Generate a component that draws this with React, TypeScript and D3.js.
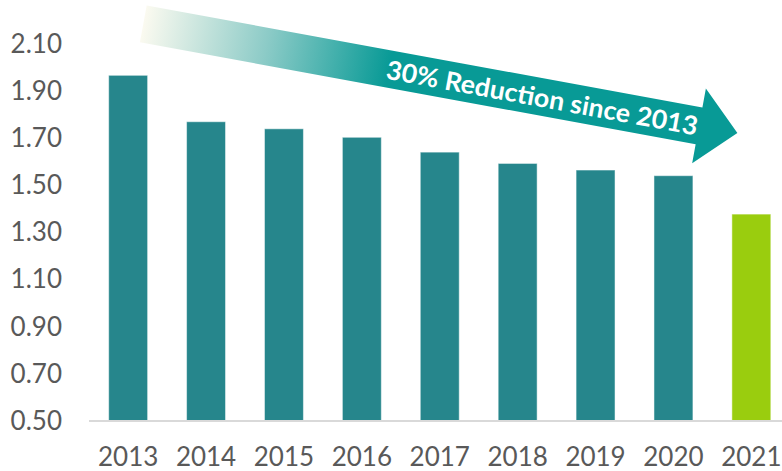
import React from "react";
import * as d3 from "d3";

const years = ["2013", "2014", "2015", "2016", "2017", "2018", "2019", "2020", "2021"];
const values = [1.965, 1.768, 1.738, 1.702, 1.639, 1.591, 1.563, 1.539, 1.376];
const yTicks = [0.5, 0.7, 0.9, 1.1, 1.3, 1.5, 1.7, 1.9, 2.1];
const arrowLabel = "30% Reduction since 2013";

const W = 782;
const H = 471;
const TEAL = "#26868C";
const GREEN = "#9ACD0E";
const ARROW = "#089A96";
const TEXT = "#595959";
const FONT = "Lato, 'Open Sans', sans-serif";

export default function App() {
  const x = d3.scaleBand<string>().domain(years).range([89.2, 790.3]).paddingInner(0.5).paddingOuter(0.25);
  const y = d3.scaleLinear().domain([0.5, 2.1]).range([420.5, 43.5]);

  // arrow annotation geometry (local frame)
  const ox = 143.3, oy = 23.9;
  const angle = (Math.atan2(102, 555.9) * 180) / Math.PI;
  const shaftLen = 565;
  const halfW = 18.7;
  const headHalf = 38;
  const headLen = 39;
  const arrowPts = [
    [0, -halfW],
    [shaftLen, -halfW],
    [shaftLen, -headHalf],
    [shaftLen + headLen, 0],
    [shaftLen, headHalf],
    [shaftLen, halfW],
    [0, halfW],
  ];

  return (
    <svg width={W} height={H} style={{ position: "absolute", left: 0, top: 0, background: "#fff" }}>
      <defs>
        <linearGradient id="arrowGrad" gradientUnits="userSpaceOnUse" x1={0} y1={0} x2={250} y2={0}>
          <stop offset="0" stopColor="#FBFAF0" />
          <stop offset="0.5" stopColor="#8CCBC7" />
          <stop offset="1" stopColor={ARROW} />
        </linearGradient>
      </defs>
      {/* y tick labels */}
      {yTicks.map((t) => (
        <text
          key={t}
          x={62}
          y={y(t)}
          dy="0.36em"
          textAnchor="end"
          fontFamily={FONT}
          fontSize={26}
          fill={TEXT}
        >
          {d3.format(".2f")(t)}
        </text>
      ))}
      {/* bars */}
      {years.map((yr, i) => (
        <rect
          key={yr}
          x={x(yr)}
          y={y(values[i])}
          width={x.bandwidth()}
          height={y(0.5) - y(values[i])}
          fill={yr === "2021" ? GREEN : TEAL}
          stroke="#ffffff"
          strokeOpacity={0.5}
          strokeWidth={1}
        />
      ))}
      {/* baseline */}
      <line x1={89} x2={W} y1={y(0.5) + 0.5} y2={y(0.5) + 0.5} stroke="#D9D9D9" strokeWidth={2} />
      {/* x labels */}
      {years.map((yr) => (
        <text
          key={yr}
          x={(x(yr) as number) + x.bandwidth() / 2}
          y={466}
          textAnchor="middle"
          fontFamily={FONT}
          fontSize={26}
          fill={TEXT}
        >
          {yr}
        </text>
      ))}
      {/* arrow annotation */}
      <g transform={`translate(${ox},${oy}) rotate(${angle})`}>
        <polygon points={arrowPts.map((p) => p.join(",")).join(" ")} fill="url(#arrowGrad)" />
        <text
          x={405.7}
          y={10}
          textAnchor="middle"
          fontFamily={FONT}
          fontWeight={700}
          fontSize={26}
          fill="#ffffff"
          textLength={316}
          lengthAdjust="spacingAndGlyphs"
        >
          {arrowLabel}
        </text>
      </g>
    </svg>
  );
}
